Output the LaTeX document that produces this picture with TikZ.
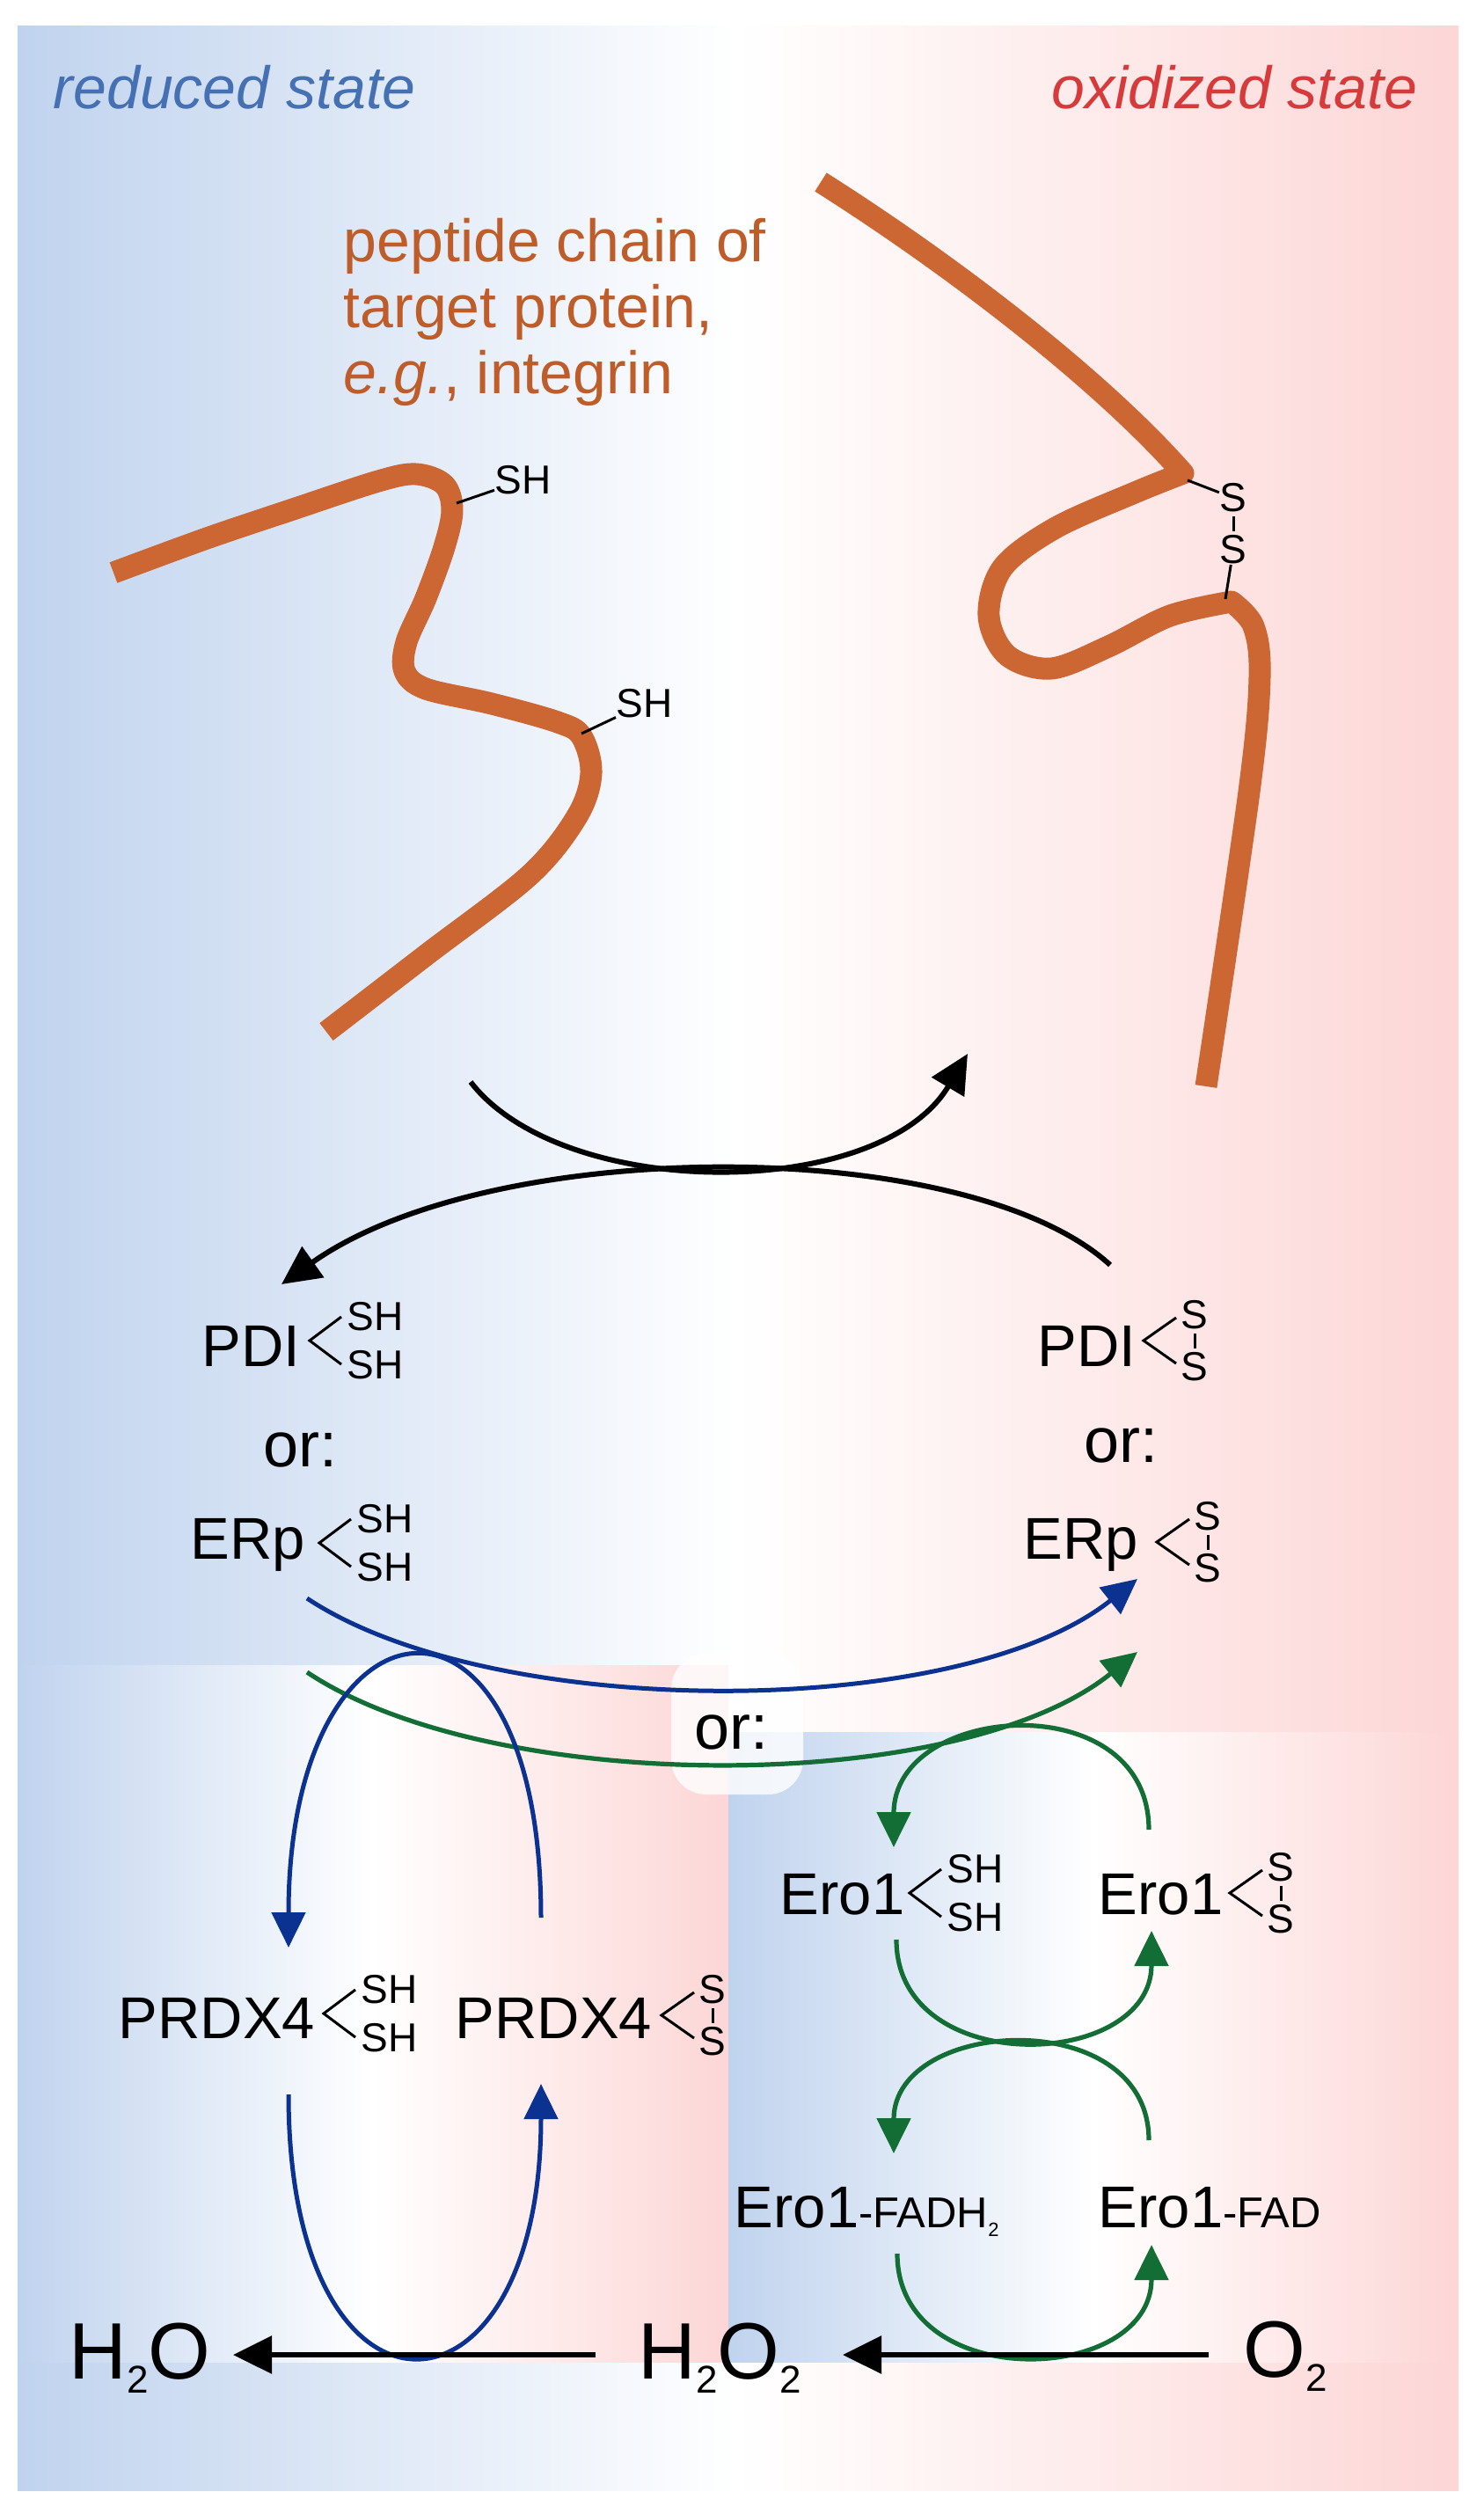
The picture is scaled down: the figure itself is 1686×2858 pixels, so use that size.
\documentclass[tikz,border=0pt]{standalone}
\usepackage{fontspec}
\setmainfont{Liberation Sans}
\usetikzlibrary{arrows.meta}
\definecolor{bgblue}{RGB}{192,211,238}
\definecolor{bgpink}{RGB}{253,214,214}
\definecolor{chain}{RGB}{204,102,51}
\definecolor{chaintxt}{RGB}{190,92,42}
\definecolor{redtxt}{RGB}{214,58,58}
\definecolor{bluetxt}{RGB}{70,112,180}
\definecolor{arrblue}{RGB}{12,50,145}
\definecolor{arrgreen}{RGB}{18,110,52}
\begin{document}
\begin{tikzpicture}[x=0.25pt,y=-0.25pt,
  lbl/.style={inner sep=0pt,anchor=base west,font=\fontsize{16.75}{20}\selectfont},
  orlbl/.style={inner sep=0pt,anchor=base west,font=\fontsize{18}{21}\selectfont},
  smalllbl/.style={inner sep=0pt,font=\fontsize{11.5}{13}\selectfont},
  biglbl/.style={inner sep=0pt,anchor=base west,font=\fontsize{22.75}{26}\selectfont},
  titlelbl/.style={inner sep=0pt,anchor=base west,font=\fontsize{17}{20}\selectfont\itshape},
  prottxt/.style={inner sep=0pt,anchor=base west,text=chaintxt,font=\fontsize{17}{20}\selectfont},
  chainline/.style={draw=chain,line width=6.25pt,line cap=butt,line join=round},
  thinline/.style={line width=0.75pt},
  blkarrow/.style={line width=1.5pt,-{Triangle[length=11pt,width=10.5pt]}},
  bluearrow/.style={draw=arrblue,line width=1.25pt,-{Triangle[length=10pt,width=9.5pt]}},
  greenarrow/.style={draw=arrgreen,line width=1.3pt,-{Triangle[length=10pt,width=9.5pt]}},
  panel/.style={left color=bgblue,right color=bgpink,middle color=white},
  redSH/.pic={
    \draw[thinline] (36,-27) -- (0,0) -- (36,27);
    \node[smalllbl,anchor=west] (-a) at (42,-27) {SH};
    \node[smalllbl,anchor=west] (-b) at (42,28) {SH};
  },
  oxSS/.pic={
    \draw[thinline] (37,-26) -- (0,0) -- (37,26);
    \node[smalllbl] (-a) at (58,-29) {S};
    \node[smalllbl] (-b) at (58,30) {S};
    \draw[thinline,shorten <=1pt,shorten >=1pt] (-a) -- (-b);
  }
]
\useasboundingbox (0,0) rectangle (1686,2858);
% backgrounds
\fill[panel] (20,30) rectangle (1658,2831);
\fill[panel] (20,1893) rectangle (828,2685);
\fill[panel] (828,1969) rectangle (1658,2685);
\fill[white,fill opacity=0.8,rounded corners=10pt] (763,1880) rectangle (913,2040);

% titles
\node[titlelbl,text=bluetxt] (tred) at (60,124) {reduced state};
\node[titlelbl,text=redtxt,anchor=base east] (tox) at (1612,124) {oxidized state};

% protein text
\node[prottxt] (pt1) at (390,297) {peptide chain of};
\node[prottxt] (pt2) at (390,372) {target protein,};
\node[prottxt] (pt3) at (390,447) {\textit{e.g.}, integrin};

% left (reduced) chain
\draw[chainline] plot[smooth,tension=0.55] coordinates {(129,651) (235,612) (330,580) (430,547) (473,539) (505,551) (514,580) (505,622) (484,680) (462,730) (460,763) (484,783) (559,800) (634,821) (661,837) (672,879) (656,928) (602,995) (484,1086) (371,1173)};
\node[smalllbl,anchor=west] (sh1) at (562,546) {SH};
\node[smalllbl,anchor=west] (sh2) at (700,800) {SH};
\coordinate (t1) at (519,572);
\coordinate (t2) at (661,834);
\draw[thinline] (t1) -- (sh1);
\draw[thinline] (t2) -- (sh2);

% right (oxidized) chain
\draw[chainline] (933,207) .. controls (1080,300) and (1250,430) .. (1345,538)
  -- plot[smooth,tension=0.55] coordinates {(1345,538) (1290,560) (1200,600) (1140,645) (1124,700) (1145,745) (1195,760) (1260,735) (1330,700) (1400,684)}
  -- plot[smooth,tension=0.55] coordinates {(1400,684) (1425,712) (1432,770) (1420,900) (1371,1235)};
\node[smalllbl] (ss1) at (1402,566) {S};
\node[smalllbl] (ss2) at (1402,625) {S};
\draw[thinline,shorten <=1pt,shorten >=1pt] (ss1) -- (ss2);
\coordinate (t3) at (1350,546);
\coordinate (t4) at (1393,681);
\draw[thinline] (t3) -- (ss1);
\draw[thinline] (ss2) -- (t4);

% black crossing arrows
\coordinate (bkAs) at (535,1230);
\coordinate (bkAe) at (1100,1198);
\coordinate (bkBs) at (1262,1438);
\coordinate (bkBe) at (320,1460);
\draw[blkarrow] (bkAs) .. controls (640,1366) and (1000,1366) .. (bkAe);
\draw[blkarrow] (bkBs) .. controls (1100,1290) and (560,1290) .. (bkBe);

% PDI / ERp
\node[lbl] (pdir) at (229,1553) {PDI};
\pic (pdirb) at (352,1524) {redSH};
\node[orlbl] (orl) at (299,1667) {or:};
\node[lbl] (erpr) at (216,1772) {ERp};
\pic (erprb) at (363,1754) {redSH};

\node[lbl] (pdio) at (1179,1553) {PDI};
\pic (pdiob) at (1300,1524) {oxSS};
\node[orlbl] (orr) at (1232,1662) {or:};
\node[lbl] (erpo) at (1163,1772) {ERp};
\pic (erpob) at (1315,1753) {oxSS};

% blue and green ERp arrows
\coordinate (blS) at (349,1817);
\coordinate (blE) at (1293,1795);
\coordinate (grS) at (349,1901);
\coordinate (grE) at (1293,1878);
\draw[bluearrow] (blS) .. controls (560,1957) and (1090,1957) .. (blE);
\draw[greenarrow] (grS) .. controls (560,2042) and (1090,2042) .. (grE);
\node[orlbl] (orm) at (789,1988) {or:};

% PRDX4
\node[lbl] (prr) at (134,2317) {PRDX4};
\pic (prrb) at (368,2289) {redSH};
\node[lbl] (pro) at (517,2317) {PRDX4};
\pic (prob) at (752,2291) {oxSS};

% blue loops
\coordinate (bu1) at (615,2180);
\coordinate (bu2) at (328,2214);
\coordinate (bd1) at (328,2381);
\coordinate (bd2) at (615,2369);
\draw[bluearrow] (bu1) .. controls (615,1763) and (328,1797) .. (bu2);
\draw[bluearrow] (bd1) .. controls (328,2784) and (615,2772) .. (bd2);

% Ero1
\node[lbl] (eror) at (886,2176) {Ero1};
\pic (erorb) at (1034,2152) {redSH};
\node[lbl] (eroo) at (1248,2176) {Ero1};
\pic (eroob) at (1398,2152) {oxSS};
\node[lbl] (erofh) at (834,2532) {Ero1\fontsize{12.25}{14}\selectfont -FADH\raisebox{-2.5pt}{\fontsize{5.5}{6}\selectfont 2}};
\node[lbl] (erof) at (1248,2532) {Ero1\fontsize{12.25}{14}\selectfont -FAD};

% green loops
\coordinate (g1s) at (1306,2080);
\coordinate (g1e) at (1016,2100);
\coordinate (g2s) at (1019,2205);
\coordinate (g2e) at (1309,2195);
\coordinate (g3s) at (1306,2433);
\coordinate (g3e) at (1016,2448);
\coordinate (g4s) at (1020,2562);
\coordinate (g4e) at (1309,2552);
\draw[greenarrow] (g1s) .. controls (1306,1915) and (1016,1935) .. (g1e);
\draw[greenarrow] (g2s) .. controls (1019,2364) and (1309,2354) .. (g2e);
\draw[greenarrow] (g3s) .. controls (1306,2278) and (1016,2293) .. (g3e);
\draw[greenarrow] (g4s) .. controls (1020,2722) and (1309,2712) .. (g4e);

% bottom row
\node[biglbl] (h2o) at (78,2704) {H\raisebox{-4pt}{\fontsize{11}{12}\selectfont 2}O};
\node[biglbl] (h2o2) at (725,2704) {H\raisebox{-4pt}{\fontsize{11}{12}\selectfont 2}O\raisebox{-4pt}{\fontsize{11}{12}\selectfont 2}};
\node[biglbl] (o2) at (1413,2702) {O\raisebox{-4pt}{\fontsize{11}{12}\selectfont 2}};
\coordinate (a1s) at (677,2677);
\coordinate (a1e) at (265,2677);
\coordinate (a2s) at (1374,2677);
\coordinate (a2e) at (958,2677);
\draw[blkarrow] (a1s) -- (a1e);
\draw[blkarrow] (a2s) -- (a2e);
\end{tikzpicture}
\end{document}
